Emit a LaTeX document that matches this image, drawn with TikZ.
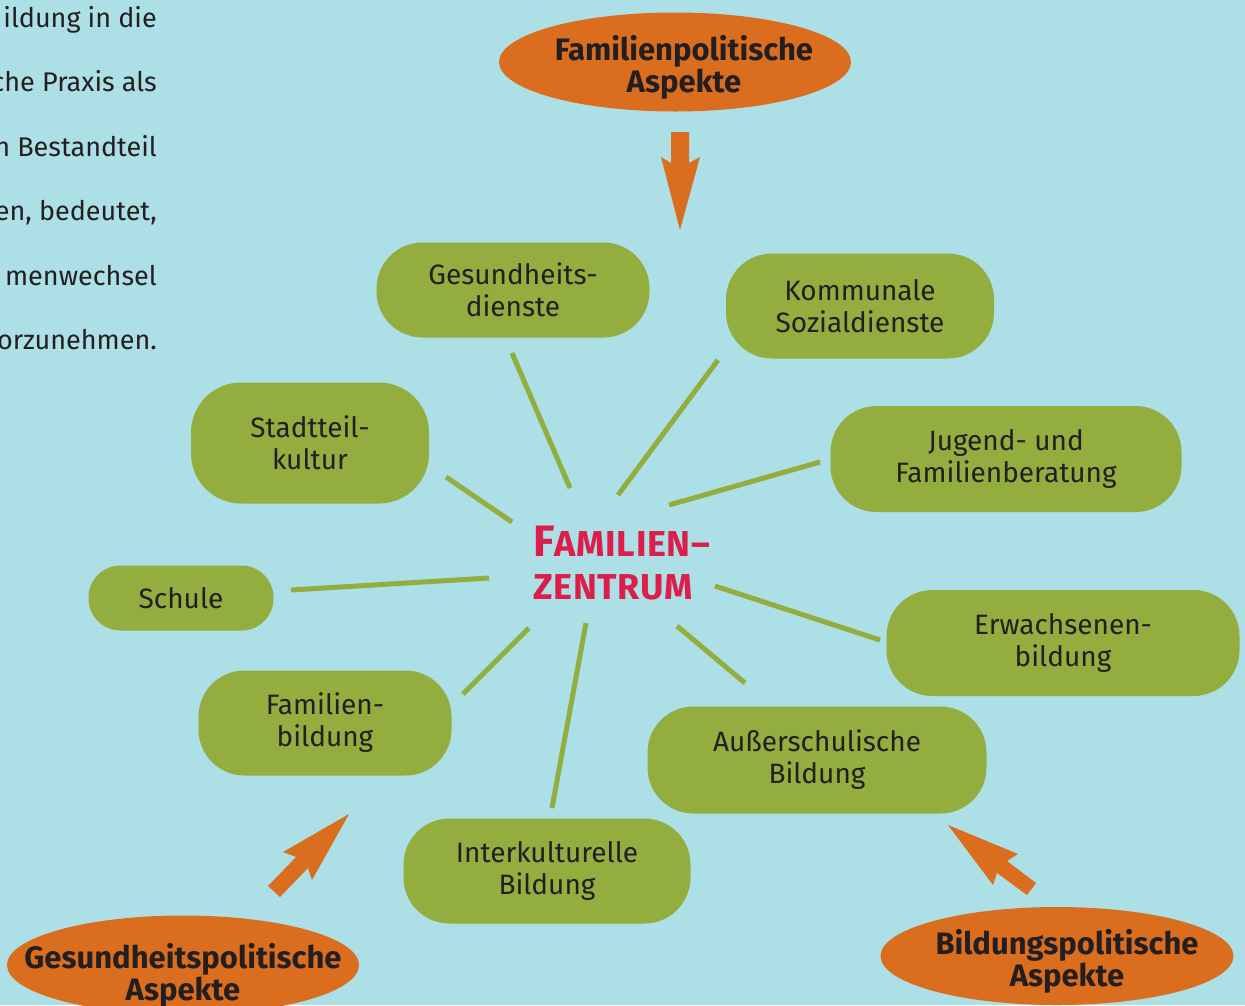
\documentclass[tikz,border=0pt]{standalone}
\usepackage{fontspec}
\setmainfont{Fira Sans}
\usetikzlibrary{shapes.geometric}

\definecolor{hintergrund}{HTML}{ADDFE6}
\definecolor{gruen}{HTML}{93AD3F}
\definecolor{pfeilorange}{HTML}{DA6E1E}
\definecolor{schrift}{HTML}{231F20}
\definecolor{rot}{HTML}{DC1E4B}

\tikzset{
  feld/.style={fill=gruen, rounded corners=46pt, align=center, text=schrift,
    font=\fontsize{28}{32}\selectfont, inner sep=0pt},
  aspekt/.style={ellipse, fill=pfeilorange, align=center, text=schrift,
    font=\fontsize{31}{30}\selectfont\bfseries, inner ysep=-25pt, inner xsep=-60pt,
    minimum width=352pt, minimum height=99pt},
  linie/.style={gruen, line width=5pt},
  pfeil/.style={fill=pfeilorange},
  fliess/.style={anchor=base east, text=schrift, inner sep=0pt,
    font=\fontsize{27}{30}\selectfont},
}

\begin{document}
\begin{tikzpicture}[x=1pt,y=-1pt]

%%% Hintergrund
\useasboundingbox (0,0) rectangle (1245,1005);
\fill[hintergrund] (0,0) rectangle (1245,1005);

%% Fliesstext links oben
\node[fliess] (t1) at (157,27) {ildung in die};
\node[fliess] (t2) at (157,91) {che Praxis als};
\node[fliess] (t3) at (157,156) {n Bestandteil};
\node[fliess] (t4) at (157,220) {en, bedeutet,};
\node[fliess] (t5) at (157,285) {menwechsel};
\node[fliess] (t6) at (157,349) {orzunehmen.};

%% Verbindungen
\coordinate (gd-a) at (512,353);   \coordinate (gd-z) at (570,488);
\coordinate (ksd-a) at (718,360);  \coordinate (ksd-z) at (618,495);
\coordinate (stk-a) at (446,477);  \coordinate (stk-z) at (512,522);
\coordinate (jfb-a) at (820,462);  \coordinate (jfb-z) at (669,505);
\coordinate (sch-a) at (291,590);  \coordinate (sch-z) at (489,578);
\coordinate (ewb-a) at (880,640);  \coordinate (ewb-z) at (715,586);
\coordinate (fab-a) at (463,694);  \coordinate (fab-z) at (529,628);
\coordinate (asb-a) at (745,683);  \coordinate (asb-z) at (677,626);
\coordinate (ikb-a) at (552,808);  \coordinate (ikb-z) at (586,623);

\draw[linie] (gd-a) -- (gd-z);
\draw[linie] (ksd-a) -- (ksd-z);
\draw[linie] (stk-a) -- (stk-z);
\draw[linie] (jfb-a) -- (jfb-z);
\draw[linie] (sch-a) -- (sch-z);
\draw[linie] (ewb-a) -- (ewb-z);
\draw[linie] (fab-a) -- (fab-z);
\draw[linie] (asb-a) -- (asb-z);
\draw[linie] (ikb-a) -- (ikb-z);

%% Felder
\node[feld, minimum width=273pt, minimum height=95pt] (gd) at (513,290) {Gesundheits-\\dienste};
\node[feld, minimum width=268pt, minimum height=105pt] (ksd) at (860,306) {Kommunale\\Sozialdienste};
\node[feld, minimum width=238pt, minimum height=121pt, rounded corners=50pt] (stk) at (310,443) {Stadtteil-\\kultur};
\node[feld, minimum width=351pt, minimum height=106pt] (jfb) at (1006,459) {Jugend- und\\Familienberatung};
\node[feld, minimum width=185pt, minimum height=65pt, rounded corners=32pt] (sch) at (181,598) {Schule};
\node[feld, minimum width=353pt, minimum height=106pt] (ewb) at (1063,643) {Erwachsenen-\\bildung};
\node[feld, minimum width=253pt, minimum height=105pt] (fab) at (325,723) {Familien-\\bildung};
\node[feld, minimum width=339pt, minimum height=107pt] (asb) at (817,760) {Außerschulische\\Bildung};
\node[feld, minimum width=287pt, minimum height=105pt] (ikb) at (547,871) {Interkulturelle\\Bildung};

%% Mitte
\node[anchor=west, align=left, inner sep=0pt, text=rot,
  font=\fontsize{36}{43}\selectfont\bfseries\addfontfeature{LetterSpace=2}] (fz) at (533,563)
  {{\fontsize{44}{43}\selectfont F}AMILIEN–\\ZENTRUM};

%% Aspekte
\node[aspekt] (fpa) at (675,62) {\rule{0pt}{36pt}\hspace{18pt}Familienpolitische\\\hspace{18pt}Aspekte};
\node[aspekt] (gpa) at (183,965) {\rule{0pt}{46pt}Gesundheitspolitische\\Aspekte};
\node[aspekt, minimum width=353pt, minimum height=98pt] (bpa) at (1057,956) {\rule{0pt}{36pt}\hspace{20pt}Bildungspolitische\\\hspace{20pt}Aspekte};

%% Pfeile
\fill[pfeil] (671,132) -- (689,132) -- (689,163) -- (700,157) -- (680,230)
  -- (661,157) -- (671,163) -- cycle;
\fill[pfeil] (349,814) -- (312,880) -- (308,868) -- (280,897) -- (268,886)
  -- (296,857) -- (283,852) -- cycle;
\fill[pfeil] (948,825) -- (1018,854) -- (1007,861) -- (1036,883) -- (1027,895)
  -- (997,873) -- (993,885) -- cycle;

\end{tikzpicture}
\end{document}
